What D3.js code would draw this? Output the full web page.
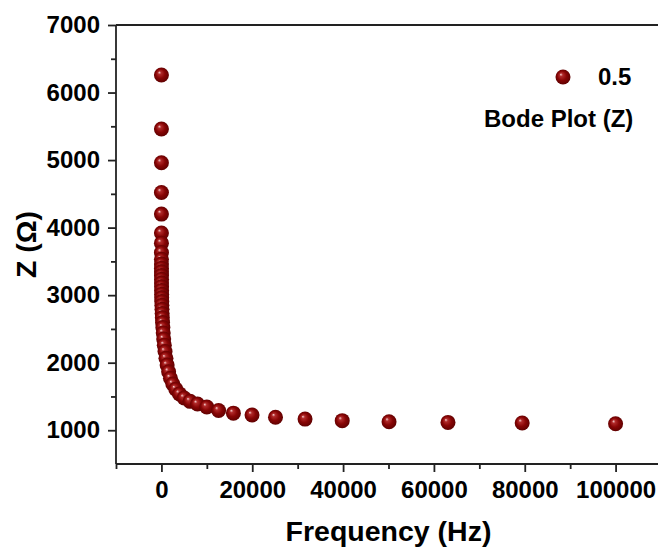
<!DOCTYPE html>
<html>
<head>
<meta charset="utf-8">
<script src="https://cdn.jsdelivr.net/npm/d3@7"></script>
<style>
  html, body { margin: 0; padding: 0; background: #fff; }
  svg { display: block; }
  text { font-family: "Liberation Sans", Arial, sans-serif; font-weight: bold; fill: #000; }
</style>
</head>
<body>
<svg id="chart" width="658" height="548"></svg>
<script>
// Frequency (Hz) and impedance |Z| (Ohm)
const frequency = [1.0, 1.26, 1.58, 2.0, 2.51, 3.16, 3.98, 5.01, 6.31, 7.94,
  10, 12.6, 15.8, 20, 25.1, 31.6, 39.8, 50.1, 63.1, 79.4,
  100, 126, 158, 200, 251, 316, 398, 501, 631, 794,
  1000, 1259, 1585, 1995, 2512, 3162, 3981, 5012, 6310, 7943,
  10000, 12589, 15849, 19953, 25119, 31623, 39811, 50119, 63096, 79433, 100000];
const impedance = [6260, 5460, 4960, 4520, 4200, 3920, 3770, 3630, 3530, 3460,
  3400, 3345, 3290, 3235, 3180, 3125, 3070, 3015, 2960, 2905,
  2850, 2790, 2730, 2665, 2595, 2520, 2440, 2350, 2260, 2165,
  2065, 1965, 1865, 1770, 1685, 1608, 1538, 1478, 1428, 1388,
  1345, 1292, 1253, 1225, 1192, 1165, 1142, 1126, 1116, 1108, 1095];
const xTickValues = [0, 20000, 40000, 60000, 80000, 100000];
const xMinorTickValues = [-10000, 10000, 30000, 50000, 70000, 90000];
const yTickValues = [1000, 2000, 3000, 4000, 5000, 6000, 7000];
const yMinorTickValues = [1500, 2500, 3500, 4500, 5500, 6500];
const seriesName = "0.5";
const legendNote = "Bode Plot (Z)";
const xTitle = "Frequency (Hz)";
const yTitle = "Z (\u03A9)";

const W = 658, H = 548;
const plotLeft = 116, plotTop = 25, plotBottom = 464, plotRight = 661;

const svg = d3.select("#chart");

const x = d3.scaleLinear().domain([-10000, 110000]).range([plotLeft, plotRight]);
const y = d3.scaleLinear().domain([500, 7000]).range([plotBottom, plotTop]);

// gradient for 3D-looking balls
const defs = svg.append("defs");
const grad = defs.append("radialGradient").attr("id", "ball")
  .attr("cx", "50%").attr("cy", "50%").attr("r", "55%")
  .attr("fx", "35%").attr("fy", "32%");
grad.append("stop").attr("offset", "0%").attr("stop-color", "#f6d4d4");
grad.append("stop").attr("offset", "20%").attr("stop-color", "#b02a2a");
grad.append("stop").attr("offset", "55%").attr("stop-color", "#880505");
grad.append("stop").attr("offset", "100%").attr("stop-color", "#580000");

const axisColor = "#222";
const lw = 1.8;
const tickFont = "24px";

// X axis (bottom)
const xAxis = svg.append("g").attr("transform", `translate(0,${plotBottom})`)
  .call(d3.axisBottom(x).tickValues(xTickValues).tickSize(8).tickPadding(9).tickFormat(d3.format("d")));
xAxis.select(".domain").remove();
xAxis.selectAll(".tick line").attr("stroke", axisColor).attr("stroke-width", lw);
xAxis.selectAll("text").attr("font-size", tickFont).attr("fill", "#000");

const xMinor = svg.append("g").attr("transform", `translate(0,${plotBottom})`)
  .call(d3.axisBottom(x).tickValues(xMinorTickValues).tickSize(5).tickFormat(""));
xMinor.select(".domain").remove();
xMinor.selectAll(".tick line").attr("stroke", axisColor).attr("stroke-width", lw);

// Y axis (left)
const yAxis = svg.append("g").attr("transform", `translate(${plotLeft},0)`)
  .call(d3.axisLeft(y).tickValues(yTickValues).tickSize(8).tickPadding(8).tickFormat(d3.format("d")));
yAxis.select(".domain").remove();
yAxis.selectAll(".tick line").attr("stroke", axisColor).attr("stroke-width", lw);
yAxis.selectAll("text").attr("font-size", tickFont).attr("fill", "#000");

const yMinor = svg.append("g").attr("transform", `translate(${plotLeft},0)`)
  .call(d3.axisLeft(y).tickValues(yMinorTickValues).tickSize(5).tickFormat(""));
yMinor.select(".domain").remove();
yMinor.selectAll(".tick line").attr("stroke", axisColor).attr("stroke-width", lw);

// frame lines
svg.append("line").attr("x1", plotLeft).attr("x2", W).attr("y1", plotBottom).attr("y2", plotBottom)
  .attr("stroke", axisColor).attr("stroke-width", lw);
svg.append("line").attr("x1", plotLeft).attr("x2", W).attr("y1", plotTop).attr("y2", plotTop)
  .attr("stroke", axisColor).attr("stroke-width", lw);
svg.append("line").attr("x1", plotLeft).attr("x2", plotLeft).attr("y1", plotTop).attr("y2", plotBottom)
  .attr("stroke", axisColor).attr("stroke-width", lw);

// data points (draw low frequency first so higher frequency sit on top)
const data = frequency.map((f, i) => ({ f, z: impedance[i] }));
svg.append("g").selectAll("circle").data(data).join("circle")
  .attr("cx", d => x(d.f))
  .attr("cy", d => y(d.z))
  .attr("r", 7.5)
  .attr("fill", "url(#ball)");

// legend
svg.append("circle").attr("cx", 563).attr("cy", 77).attr("r", 7.5).attr("fill", "url(#ball)");
svg.append("text").attr("x", 598).attr("y", 85).attr("font-size", tickFont).text(seriesName);
svg.append("text").attr("x", 484).attr("y", 127).attr("font-size", tickFont).text(legendNote);

// axis titles
svg.append("text").attr("x", (plotLeft + plotRight) / 2).attr("y", 541)
  .attr("text-anchor", "middle").attr("font-size", "28.5px").text(xTitle);
svg.append("text").attr("transform", `translate(36,${(plotTop + plotBottom) / 2}) rotate(-90)`)
  .attr("text-anchor", "middle").attr("font-size", "28.5px").text(yTitle);
</script>
</body>
</html>
